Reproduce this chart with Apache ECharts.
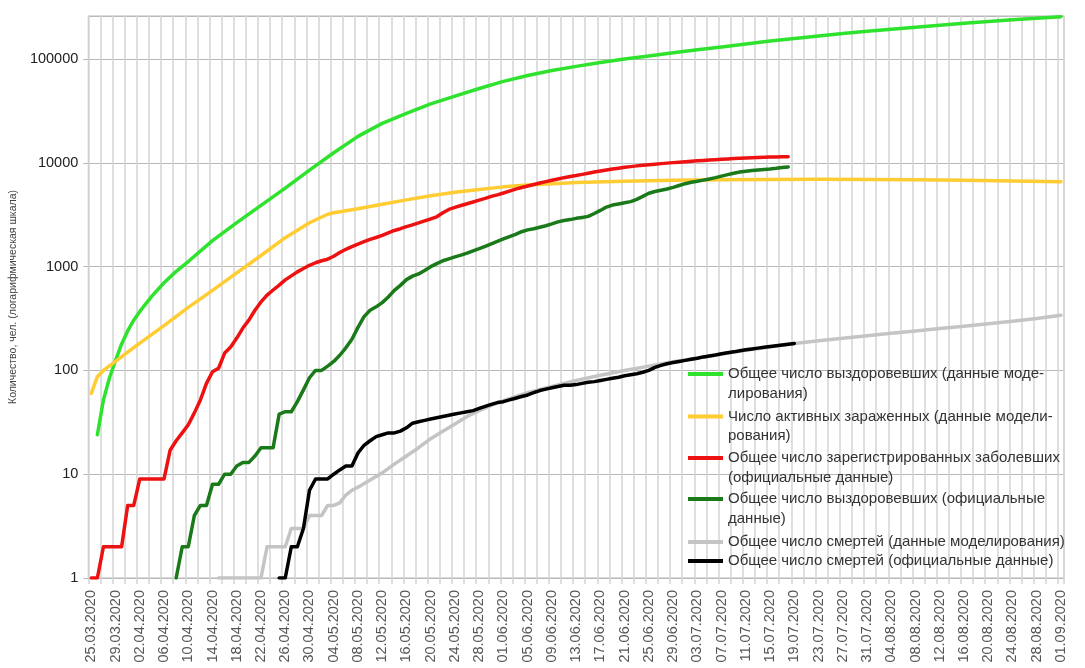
<!DOCTYPE html>
<html>
<head>
  <meta charset="utf-8">
  <title>COVID model vs official data</title>
  <script src="https://cdn.jsdelivr.net/npm/echarts@6/dist/echarts.min.js"></script>
  <style>
    html, body { margin: 0; padding: 0; background: #fff; }
  </style>
</head>
<body>
  <div id="main" style="width: 1085px; height: 668px;"></div>

  <script>
    // даты по оси X: 25.03.2020 ... 01.09.2020, шаг 1 день
    var startDay = [2020, 2, 25];
    var dayCount = 161;

    // модельные кривые: [номер дня, значение]
    var modelRecovered = [[1,24],[2,52],[3,85],[4,125],[5,180],[6,240],[7,305],[8,370],[10,520],[12,700],[14,900],[16,1120],[20,1780],[24,2650],[28,3900],[32,5700],[36,8500],[40,12500],[44,18000],[48,24000],[52,30000],[56,37000],[60,44000],[64,52000],[68,61000],[72,69500],[76,77500],[80,85000],[84,92500],[88,100000],[92,107000],[96,115000],[100,123000],[104,131000],[108,140000],[112,149000],[116,158000],[120,167000],[124,176000],[128,185000],[132,194000],[136,203000],[140,212000],[144,221000],[148,230000],[152,239000],[156,248000],[160,256000]];
    var modelActive = [[0,60],[1,87],[2,100],[4,122],[6,150],[8,183],[12,270],[16,405],[20,590],[24,870],[28,1280],[32,1900],[36,2650],[39,3200],[40,3300],[44,3620],[48,4000],[52,4400],[56,4830],[60,5200],[64,5550],[68,5870],[72,6120],[76,6300],[80,6450],[88,6650],[96,6800],[104,6880],[112,6930],[120,6940],[128,6910],[136,6860],[144,6780],[152,6690],[160,6580]];
    var modelDeaths = [[21,1],[22,1],[23,1],[24,1],[25,1],[26,1],[27,1],[28,1],[29,2],[30,2],[31,2],[32,2],[33,3],[34,3],[35,3],[36,4],[37,4],[38,4],[39,5],[40,5],[41,5.3],[42,6.3],[43,7],[44,7.5],[46,8.8],[48,10.3],[50,12.5],[52,15],[54,18],[56,22],[58,26],[60,30.5],[62,36],[64,41],[66,46],[68,51],[70,56],[72,61],[76,70],[80,80],[84,90],[88,100],[92,110],[96,121],[100,132],[104,144],[108,156],[112,168],[116,182],[120,193],[124,204],[128,216],[132,228],[136,240],[140,253],[144,267],[148,282],[152,298],[156,316],[160,340]];

    // официальные данные, по дням
    var casesStart = 0;
    var officialCases = [1,1,2,2,2,2,5,5,9,9,9,9,9,17,21,25,30,39,52,75,97,105,147,168,205,256,305,380,457,532,596,665,745,815,890,960,1030,1090,1140,1180,1260,1370,1470,1560,1650,1740,1830,1910,2000,2110,2230,2320,2430,2530,2640,2760,2880,3020,3300,3560,3720,3880,4040,4200,4380,4550,4750,4920,5120,5350,5580,5780,5980,6180,6400,6600,6800,7000,7200,7380,7550,7750,7950,8150,8350,8550,8720,8880,9050,9200,9350,9480,9600,9720,9830,9940,10050,10160,10260,10360,10460,10560,10650,10740,10830,10920,11000,11070,11140,11200,11260,11310,11360,11400,11440,11480];
    var recoveredStart = 14;
    var officialRecovered = [1,2,2,4,5,5,8,8,10,10,12,13,13,15,18,18,18,38,40,40,50,65,85,100,100,110,122,140,165,200,260,330,380,410,450,510,590,660,750,810,850,920,1000,1070,1140,1190,1240,1290,1350,1420,1490,1570,1660,1750,1850,1950,2050,2170,2260,2320,2400,2480,2580,2700,2780,2840,2920,2980,3050,3250,3480,3750,3920,4020,4120,4230,4450,4750,5100,5300,5450,5600,5800,6050,6300,6500,6650,6820,7000,7200,7450,7700,7950,8150,8300,8430,8550,8650,8730,8850,9000,9140];
    var deathsStart = 31;
    var officialDeaths = [1,1,2,2,3,7,9,9,9,10,11,12,12,16,19,21,23,24,25,25,26,28,31,32,33,34,35,36,37,38,39,40,41,43,45,47,49,50,52,54,56,58,61,64,66,68,70,72,72,73,75,77,78,80,82,84,86,89,91,93,96,100,107,112,116,119,122,125,128,131,135,138,141,145,148,151,155,158,161,164,167,170,173,176,179,182];

    var seriesNames = [
      'Общее число выздоровевших (данные моделирования)',
      'Число активных зараженных (данные моделирования)',
      'Общее число зарегистрированных заболевших (официальные данные)',
      'Общее число выздоровевших (официальные данные)',
      'Общее число смертей (данные моделирования)',
      'Общее число смертей (официальные данные)'
    ];
    var legendLines = [
      ['Общее число выздоровевших (данные моде-', 'лирования)'],
      ['Число активных зараженных (данные модели-', 'рования)'],
      ['Общее число зарегистрированных заболевших', '(официальные данные)'],
      ['Общее число выздоровевших (официальные', 'данные)'],
      ['Общее число смертей (данные моделирования)'],
      ['Общее число смертей (официальные данные)']
    ];
    var colors = ['#2ee22e', '#ffcc33', '#ee1111', '#1a7a1a', '#c4c4c4', '#000000'];

    var categories = [];
    for (var i = 0; i < dayCount; i++) {
      var d = new Date(startDay[0], startDay[1], startDay[2] + i);
      var dd = ('0' + d.getDate()).slice(-2);
      var mm = ('0' + (d.getMonth() + 1)).slice(-2);
      categories.push(dd + '.' + mm + '.' + d.getFullYear());
    }

    function daily(start, arr) {
      return arr.map(function (v, i) { return [start + i, v]; });
    }

    var seriesData = [
      modelRecovered,
      modelActive,
      daily(casesStart, officialCases),
      daily(recoveredStart, officialRecovered),
      modelDeaths,
      daily(deathsStart, officialDeaths)
    ];

    var font = 'Liberation Sans, Arial, sans-serif';
    var lh = 19.5;
    var legendCenters = [374, 416.5, 458, 499, 542, 561];

    var chart = echarts.init(document.getElementById('main'));

    var option = {
      animation: false,
      backgroundColor: '#fff',
      textStyle: { fontFamily: font },
      grid: {
        left: 88, right: 21, top: 16, bottom: 90,
        show: true, borderColor: '#b8b8b8', borderWidth: 1
      },
      legend: seriesNames.map(function (name, i) {
        var two = legendLines[i].length > 1;
        return {
          data: [name],
          left: 688,
          top: legendCenters[i] - (two ? 1.5 * lh : 0.5 * lh),
          padding: 0,
          icon: 'rect',
          itemWidth: 35,
          itemHeight: 4,
          selectedMode: false,
          formatter: function () {
            return two ? '\n' + legendLines[i].join('\n') : legendLines[i][0];
          },
          textStyle: { fontSize: 15, lineHeight: lh, color: '#333', fontFamily: font }
        };
      }),
      xAxis: {
        type: 'category',
        data: categories,
        boundaryGap: true,
        axisLine: { show: false },
        axisTick: { show: true, interval: 1, length: 6, lineStyle: { color: '#d4d4d4', width: 1.5 } },
        axisLabel: {
          interval: 3, rotate: 90, margin: 12,
          fontSize: 14.5, color: '#555', fontFamily: font
        },
        splitLine: { show: true, interval: 1, lineStyle: { color: '#d4d4d4', width: 1.5 } }
      },
      yAxis: {
        type: 'log',
        logBase: 10,
        min: 1,
        max: 260000,
        splitNumber: 6,
        name: 'Количество, чел. (логарифмическая шкала)',
        nameLocation: 'middle',
        nameGap: 66,
        nameTextStyle: { fontSize: 10.5, color: '#444', fontFamily: font },
        axisLine: { show: false },
        axisTick: { show: true, length: 5, lineStyle: { color: '#b8b8b8' } },
        axisLabel: {
          margin: 10, fontSize: 14.5, color: '#222', fontFamily: font,
          showMaxLabel: false,
          formatter: function (v) { return String(Math.round(v)); }
        },
        splitLine: { show: true, lineStyle: { color: '#b8b8b8', width: 1 } }
      },
      series: seriesNames.map(function (name, i) {
        return {
          name: name,
          type: 'line',
          data: seriesData[i],
          showSymbol: false,
          symbol: 'none',
          color: colors[i],
          lineStyle: { color: colors[i], width: 3.5, join: 'round', cap: 'round' },
          z: 2 + i
        };
      })
    };

    chart.setOption(option);
  </script>
</body>
</html>
